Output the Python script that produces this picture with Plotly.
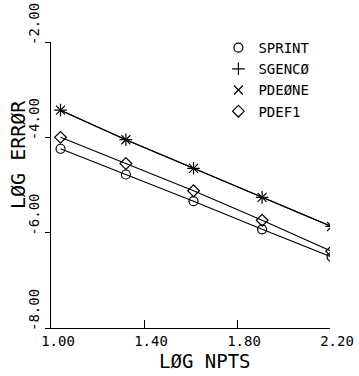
import plotly.graph_objects as go

# Data
log_npts = [1.041, 1.322, 1.613, 1.908, 2.207]
sprint = [-4.24, -4.78, -5.34, -5.93, -6.51]
sgenco = [-3.43, -4.05, -4.65, -5.26, -5.87]
pdeone = [-3.43, -4.05, -4.65, -5.26, -5.87]
pdef1 = [-4.00, -4.55, -5.12, -5.74, -6.39]

series_names = ["SPRINT", "SGENCØ", "PDEØNE", "PDEF1"]
x_tickvals = [1.00, 1.40, 1.80, 2.20]
x_ticktext = ["1.00", "1.40", "1.80", "2.20"]
y_tickvals = [-8, -6, -4, -2]
y_ticktext = ["-8.00", "-6.00", "-4.00", "-2.00"]

FONT = "DejaVu Sans Mono"
fig = go.Figure()

series = [
    (series_names[0], sprint, "circle-open"),
    (series_names[1], sgenco, "cross-thin-open"),
    (series_names[2], pdeone, "x-thin-open"),
    (series_names[3], pdef1, "diamond-open"),
]

# connecting lines
for name, ys, sym in series:
    fig.add_trace(go.Scatter(x=log_npts, y=ys, mode="lines",
                             line=dict(color="black", width=1.1),
                             showlegend=False, hoverinfo="skip"))
# markers
for name, ys, sym in series:
    fig.add_trace(go.Scatter(x=log_npts, y=ys, mode="markers", name=name,
                             marker=dict(symbol=sym, size=9, color="black",
                                         line=dict(color="black", width=1.2))))

fig.update_layout(
    width=359, height=376,
    margin=dict(l=51, r=29, t=42, b=48),
    paper_bgcolor="white", plot_bgcolor="white",
    font=dict(family=FONT, color="black", size=14),
    legend=dict(x=0.6, y=1.035, xanchor="left", yanchor="top",
                font=dict(family=FONT, size=14, color="black"),
                bgcolor="rgba(0,0,0,0)", itemwidth=30, tracegroupgap=0),
    xaxis=dict(range=[1.0, 2.2], tickvals=x_tickvals, ticktext=x_ticktext,
               showline=True, linecolor="black", linewidth=1,
               ticks="inside", ticklen=8, tickcolor="black",
               showgrid=False, zeroline=False, ticklabelshift=7,
               automargin=False,
               tickfont=dict(family=FONT, size=14)),
    yaxis=dict(range=[-8, -2], tickvals=y_tickvals, ticktext=y_ticktext,
               showline=True, linecolor="black", linewidth=1,
               ticks="outside", ticklen=5, tickcolor="black",
               showgrid=False, zeroline=False, tickangle=-90,
               ticklabelshift=-16, automargin=False,
               tickfont=dict(family=FONT, size=14)),
    annotations=[
        dict(text="LØG NPTS", xref="paper", yref="paper",
             x=(205 - 51) / 279, y=-(361 - 328) / 286,
             xanchor="center", yanchor="middle", showarrow=False,
             font=dict(family=FONT, size=19)),
        dict(text="LØG ERRØR", xref="paper", yref="paper",
             x=-(51 - 18) / 279, y=1 - (155 - 42) / 286, textangle=-90,
             xanchor="center", yanchor="middle", showarrow=False,
             font=dict(family=FONT, size=20)),
    ],
)

fig.write_html(
    "out.html",
    config={"displayModeBar": False},
    post_script="document.body.style.margin='0';document.body.style.overflow='hidden';",
)
